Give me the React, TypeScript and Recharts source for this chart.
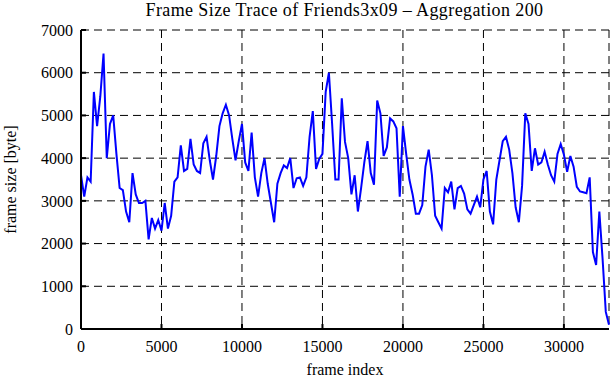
import { LineChart, Line, XAxis, YAxis, CartesianGrid } from 'recharts';

const AGGREGATION = 200;

const frameSize: number[] = [
  3600, 3100, 3550, 3450, 5550, 4750, 5450, 6450, 4000, 4800,
  5000, 4100, 3300, 3250, 2750, 2500, 3650, 3150, 2950, 2950,
  3000, 2100, 2600, 2350, 2550, 2300, 2950, 2350, 2650, 3450,
  3550, 4300, 3700, 3750, 4450, 3850, 3700, 3650, 4350, 4500,
  3950, 3500, 4050, 4750, 5050, 5250, 5000, 4450, 3950, 4400,
  4800, 3900, 3700, 4600, 3550, 3100, 3650, 4000, 3400, 2950,
  2500, 3400, 3650, 3830, 3770, 4000, 3300, 3530, 3550, 3350,
  3550, 4500, 5100, 3750, 3980, 4100, 5550, 6000, 4800, 3500,
  3500, 5400, 4380, 4000, 3150, 3600, 2750, 3300, 3900, 4400,
  3650, 3380, 5350, 5050, 4050, 4250, 4930, 4860, 4700, 3100,
  4750, 4100, 3500, 3150, 2700, 2700, 2900, 3800, 4200, 3600,
  2650, 2500, 2350, 3300, 3200, 3450, 2800, 3300, 3350, 3170,
  2800, 2700, 2900, 3100, 2850, 3500, 3700, 2750, 2450, 3500,
  3950, 4400, 4500, 4200, 3650, 2850, 2500, 3350, 5050, 4800,
  3700, 4230, 3850, 3900, 4150, 3850, 3600, 3450, 4100, 4330,
  4080, 3680, 4050, 3800, 3330, 3220, 3200, 3180, 3550, 1800,
  1500, 2750, 1650, 400, 100,
];

const xTicks = [0, 5000, 10000, 15000, 20000, 25000, 30000];
const yTicks = [0, 1000, 2000, 3000, 4000, 5000, 6000, 7000];

const data = frameSize.map((size, i) => ({ frame: i * AGGREGATION, size }));

const font = '"Liberation Serif", "Times New Roman", serif';
const tickStyle = { fill: '#000', fontSize: 16, fontFamily: font };

export default function App() {
  return (
    <div style={{ position: 'absolute', left: 0, top: 0, width: 611, height: 380, background: '#fff' }}>
      <div
        style={{
          position: 'absolute',
          left: 81,
          top: 0,
          width: 527,
          textAlign: 'center',
          fontFamily: font,
          fontSize: 18,
          lineHeight: '21px',
          color: '#000',
          whiteSpace: 'nowrap',
          letterSpacing: 0.4,
        }}
      >
        Frame Size Trace of Friends3x09 – Aggregation 200
      </div>
      <LineChart width={611} height={380} data={data} margin={{ top: 30, right: 2, bottom: 0, left: 0 }}>
        <CartesianGrid stroke="#000" strokeDasharray="8 5" strokeWidth={1} />
        <XAxis
          dataKey="frame"
          type="number"
          domain={[0, 32800]}
          ticks={xTicks}
          height={51}
          tickSize={-5}
          tickMargin={17}
          axisLine={{ stroke: '#000', strokeWidth: 2 }}
          tickLine={{ stroke: '#000', strokeWidth: 2 }}
          tick={tickStyle}
          label={{ value: 'frame index', position: 'insideBottom', offset: 5, style: { fill: '#000', fontSize: 16, fontFamily: font } }}
        />
        <XAxis
          xAxisId="top"
          orientation="top"
          dataKey="frame"
          type="number"
          domain={[0, 32800]}
          ticks={xTicks}
          height={0}
          tickSize={-5}
          tickFormatter={() => ''}
          axisLine={{ stroke: '#000', strokeWidth: 2 }}
          tickLine={{ stroke: '#000', strokeWidth: 2 }}
        />
        <YAxis
          type="number"
          domain={[0, 7000]}
          ticks={yTicks}
          width={81}
          tickSize={-5}
          tickMargin={13}
          axisLine={{ stroke: '#000', strokeWidth: 2 }}
          tickLine={{ stroke: '#000', strokeWidth: 2 }}
          tick={tickStyle}
          label={{
            value: 'frame size [byte]',
            angle: -90,
            position: 'insideLeft',
            offset: 10,
            style: { textAnchor: 'middle', fill: '#000', fontSize: 16, fontFamily: font },
          }}
        />
        <YAxis
          yAxisId="right"
          orientation="right"
          type="number"
          domain={[0, 7000]}
          ticks={yTicks}
          width={0}
          tickSize={-5}
          tickFormatter={() => ''}
          axisLine={{ stroke: '#000', strokeWidth: 2 }}
          tickLine={{ stroke: '#000', strokeWidth: 2 }}
        />
        <Line
          type="linear"
          dataKey="size"
          stroke="#0000ff"
          strokeWidth={2}
          dot={false}
          isAnimationActive={false}
        />
      </LineChart>
    </div>
  );
}
